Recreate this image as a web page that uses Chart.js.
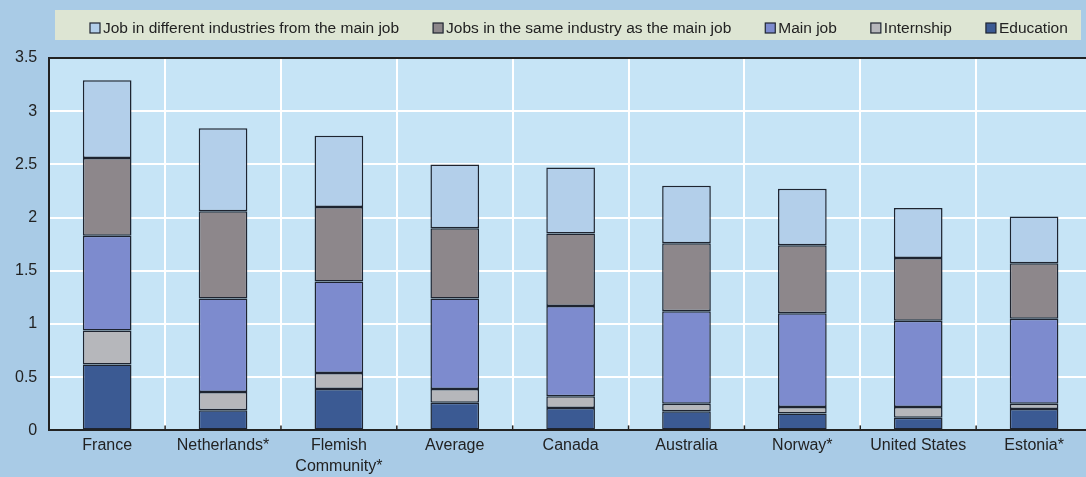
<!DOCTYPE html>
<html>
<head>
<meta charset="utf-8">
<script src="https://cdn.jsdelivr.net/npm/chart.js@4/dist/chart.umd.min.js"></script>
<style>
  html, body { margin: 0; padding: 0; overflow: hidden; background: #a9cbe6; }
  #wrap { width: 1092px; height: 482px; position: relative; }
</style>
</head>
<body>
<div id="wrap"><canvas id="chart"></canvas></div>
<script>
// Categories along the x axis
const categories = ['France', 'Netherlands*', ['Flemish', 'Community*'], 'Average', 'Canada', 'Australia', 'Norway*', 'United States', 'Estonia*'];

// Stacked components, bottom to top
const education    = [0.62, 0.19, 0.39, 0.26, 0.21, 0.18, 0.16, 0.12, 0.20];
const internship   = [0.32, 0.17, 0.15, 0.13, 0.11, 0.07, 0.06, 0.10, 0.05];
const mainJob      = [0.89, 0.88, 0.86, 0.85, 0.85, 0.87, 0.88, 0.81, 0.80];
const sameIndustry = [0.73, 0.82, 0.70, 0.66, 0.68, 0.64, 0.64, 0.59, 0.52];
const diffIndustry = [0.73, 0.78, 0.67, 0.60, 0.62, 0.54, 0.53, 0.47, 0.44];

// Y axis range and tick step
const yMin = 0;
const yMax = 3.5;
const yStep = 0.5;

const FONT = "'Liberation Sans', Arial, sans-serif";
const INK = '#222222';
const EDGE = '#1e2430';

// Page background, legend band, plot fill, top frame line and inward ticks
const backdrop = {
  id: 'backdrop',
  beforeDraw(chart) {
    const { ctx, chartArea: a } = chart;
    ctx.save();
    ctx.fillStyle = '#a9cbe6';
    ctx.fillRect(0, 0, chart.width, chart.height);
    ctx.fillStyle = '#dde5d3';
    ctx.fillRect(55, 10, 1026, 30);
    ctx.fillStyle = '#c6e4f6';
    ctx.fillRect(a.left, a.top, a.right - a.left, a.bottom - a.top);
    ctx.restore();
  },
  afterDraw(chart) {
    const { ctx, chartArea: a } = chart;
    const xs = chart.scales.x;
    ctx.save();
    ctx.strokeStyle = INK;
    ctx.lineWidth = 2;
    ctx.beginPath();
    ctx.moveTo(a.left - 1, a.top);
    ctx.lineTo(a.right, a.top);
    ctx.stroke();
    ctx.lineWidth = 1.5;
    for (let i = 0; i < categories.length - 1; i++) {
      const x = (xs.getPixelForValue(i) + xs.getPixelForValue(i + 1)) / 2;
      ctx.beginPath();
      ctx.moveTo(x, a.bottom);
      ctx.lineTo(x, a.bottom - 5);
      ctx.stroke();
    }
    ctx.restore();
  }
};

// Single-row legend in the band above the plot, top series first
const bandLegend = {
  id: 'bandLegend',
  afterDraw(chart) {
    const { ctx } = chart;
    const sets = chart.data.datasets.slice().reverse();
    ctx.save();
    ctx.font = `15.5px ${FONT}`;
    ctx.textBaseline = 'middle';
    ctx.textAlign = 'left';
    let x = 90;
    const y = 28;
    sets.forEach(ds => {
      ctx.fillStyle = ds.backgroundColor;
      ctx.fillRect(x, y - 5, 10, 10);
      ctx.strokeStyle = EDGE;
      ctx.lineWidth = 1.2;
      ctx.strokeRect(x, y - 5, 10, 10);
      ctx.fillStyle = INK;
      ctx.fillText(ds.label, x + 13, y + 1);
      x += 13 + ctx.measureText(ds.label).width + 34;
    });
    ctx.restore();
  }
};

function series(label, data, color) {
  return {
    label,
    data,
    backgroundColor: color,
    borderColor: EDGE,
    borderWidth: 1.5,
    borderSkipped: false,
    barPercentage: 0.42,
    categoryPercentage: 1.0
  };
}

new Chart(document.getElementById('chart'), {
  type: 'bar',
  data: {
    labels: categories,
    datasets: [
      series('Education', education, '#3b5a93'),
      series('Internship', internship, '#b6b7bb'),
      series('Main job', mainJob, '#7d8bce'),
      series('Jobs in the same industry as the main job', sameIndustry, '#8d878b'),
      series('Job in different industries from the main job', diffIndustry, '#b3cfea')
    ]
  },
  options: {
    responsive: true,
    maintainAspectRatio: false,
    animation: false,
    layout: { padding: { left: 3, right: 0, top: 58, bottom: 0 } },
    plugins: {
      legend: { display: false },
      tooltip: { enabled: false }
    },
    scales: {
      x: {
        stacked: true,
        grid: {
          color: '#ffffff',
          lineWidth: 2,
          offset: true,
          drawTicks: false
        },
        border: { color: INK, width: 2 },
        ticks: {
          color: INK,
          padding: 5,
          font: { family: FONT, size: 16, lineHeight: 1.3 },
          maxRotation: 0,
          autoSkip: false
        }
      },
      y: {
        stacked: true,
        min: yMin,
        max: yMax,
        grid: {
          color: '#ffffff',
          lineWidth: 2,
          drawTicks: false
        },
        border: { color: INK, width: 2 },
        ticks: {
          stepSize: yStep,
          color: INK,
          padding: 12,
          font: { family: FONT, size: 16 },
          callback: v => String(v)
        }
      }
    }
  },
  plugins: [backdrop, bandLegend]
});
</script>
</body>
</html>
